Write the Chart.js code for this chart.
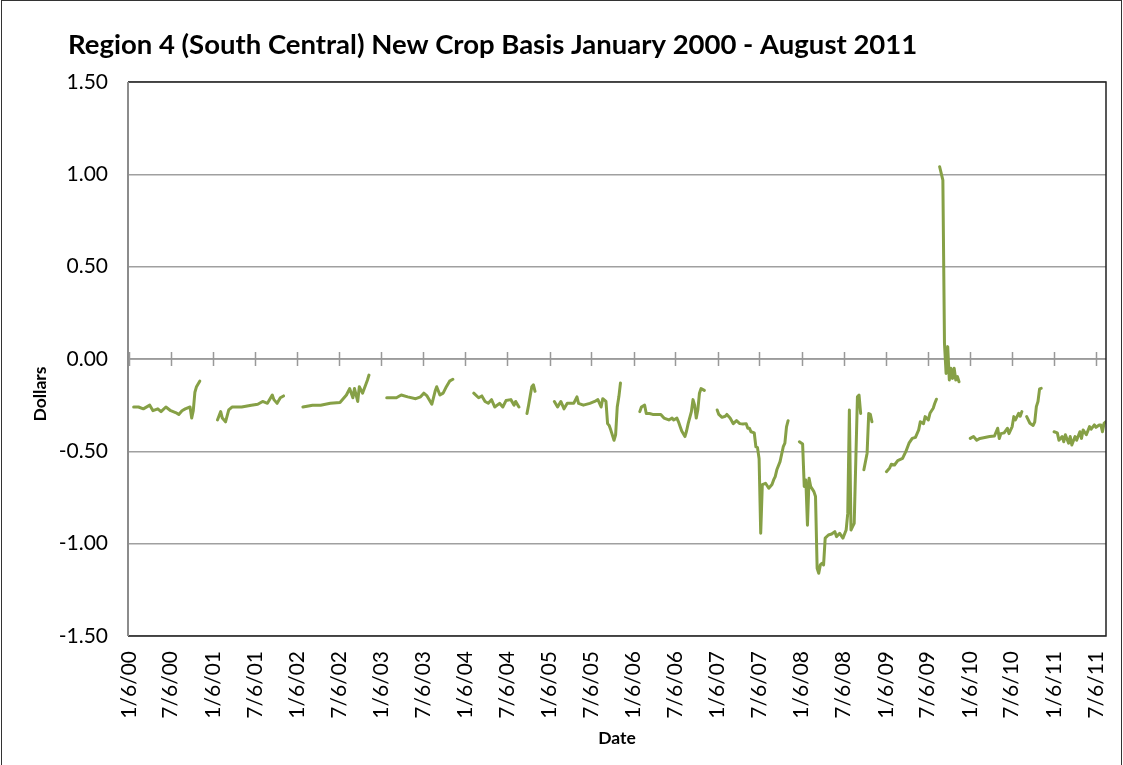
<!DOCTYPE html>
<html>
<head>
<meta charset="utf-8">
<title>Region 4 New Crop Basis</title>
<script src="https://cdn.jsdelivr.net/npm/chart.js@4.4.0/dist/chart.umd.min.js"></script>
<style>
  html, body { margin: 0; padding: 0; background: #fff; }
  #chart { display: block; }
</style>
</head>
<body>
<canvas id="chart" width="1123" height="765"></canvas>
<script>
// Wochen seit 1/6/00, Basis in Dollar - je Erntejahr ein Abschnitt
const crop2000 = [[3,-0.26],[6,-0.26],[9,-0.27],[13,-0.25],[15,-0.28],[18,-0.27],[20,-0.285],[23,-0.26],[26,-0.28],[29,-0.29],[31,-0.30],[33,-0.28],[35,-0.27],[38,-0.26],[39,-0.32],[40,-0.28],[41,-0.18],[42,-0.15],[44,-0.12]];
const crop2001 = [[55,-0.33],[57,-0.285],[58,-0.32],[60,-0.34],[62,-0.275],[64,-0.26],[70,-0.26],[76,-0.25],[80,-0.245],[83,-0.23],[86,-0.24],[89,-0.195],[90,-0.22],[92,-0.24],[94,-0.21],[96,-0.20]];
const crop2002 = [[108,-0.26],[114,-0.25],[119,-0.25],[125,-0.24],[131,-0.235],[135,-0.195],[137,-0.16],[139,-0.21],[140,-0.16],[142,-0.23],[143,-0.15],[145,-0.185],[148,-0.115],[149,-0.087]];
const crop2003 = [[160,-0.21],[166,-0.21],[169,-0.195],[173,-0.205],[178,-0.215],[181,-0.205],[183,-0.185],[185,-0.20],[188,-0.245],[190,-0.175],[191,-0.15],[193,-0.195],[195,-0.185],[197,-0.15],[199,-0.12],[201,-0.11]];
const crop2004 = [[214,-0.185],[217,-0.21],[219,-0.20],[221,-0.23],[223,-0.24],[225,-0.22],[227,-0.26],[230,-0.24],[232,-0.26],[234,-0.225],[237,-0.22],[239,-0.25],[240,-0.23],[242,-0.26]];
const crop2004b = [[247,-0.295],[248,-0.25],[249,-0.20],[250,-0.15],[251,-0.14],[252,-0.175]];
const crop2005 = [[264,-0.23],[266,-0.26],[268,-0.23],[270,-0.27],[272,-0.24],[276,-0.24],[278,-0.205],[279,-0.24],[282,-0.25],[286,-0.24],[289,-0.23],[291,-0.22],[293,-0.26],[294,-0.215],[296,-0.23],[297,-0.35],[298,-0.36],[299,-0.385],[301,-0.44],[302,-0.41],[303,-0.26],[304,-0.205],[305,-0.13]];
const crop2006 = [[317,-0.285],[318,-0.26],[320,-0.25],[321,-0.295],[323,-0.295],[325,-0.30],[328,-0.30],[330,-0.30],[332,-0.32],[335,-0.33],[337,-0.32],[338,-0.33],[340,-0.32],[341,-0.34],[342,-0.365],[343,-0.39],[345,-0.42],[346,-0.39],[347,-0.35],[349,-0.285],[350,-0.22],[351,-0.25],[352,-0.32],[353,-0.275],[354,-0.185],[355,-0.16],[357,-0.17]];
const crop2007 = [[365,-0.276],[366,-0.30],[368,-0.316],[370,-0.31],[371,-0.30],[373,-0.32],[375,-0.35],[377,-0.334],[379,-0.35],[381,-0.352],[383,-0.35],[384,-0.375],[385,-0.375],[386,-0.394],[388,-0.40],[389,-0.475],[390,-0.48],[391,-0.54],[392,-0.944],[393,-0.68],[395,-0.673],[397,-0.70],[399,-0.68],[400,-0.655],[401,-0.637],[402,-0.60],[404,-0.556],[406,-0.475],[407,-0.456],[408,-0.367],[409,-0.334]];
const crop2008 = [[416,-0.448],[418,-0.46],[419,-0.69],[420,-0.655],[421,-0.90],[422,-0.646],[423,-0.69],[425,-0.718],[426,-0.745],[427,-1.133],[428,-1.16],[429,-1.115],[430,-1.106],[431,-1.115],[432,-0.97],[434,-0.953],[436,-0.948],[438,-0.935],[439,-0.962],[441,-0.944],[443,-0.97],[445,-0.926],[446,-0.836],[447,-0.276],[448,-0.926],[449,-0.908],[450,-0.89],[452,-0.204],[453,-0.195],[454,-0.295]];
const crop2008b = [[456,-0.60],[458,-0.51],[459,-0.295],[460,-0.30],[461,-0.34]];
const crop2009 = [[470,-0.61],[472,-0.59],[473,-0.57],[475,-0.574],[477,-0.55],[480,-0.538],[482,-0.502],[484,-0.456],[486,-0.43],[488,-0.424],[490,-0.384],[491,-0.34],[493,-0.35],[494,-0.312],[496,-0.33],[497,-0.294],[499,-0.267],[500,-0.24],[501,-0.218]];
const spike2009 = [[503,1.041],[505,0.969],[506,0.085],[507,-0.078],[508,0.067],[509,-0.114],[510,-0.05],[511,-0.105],[512,-0.05],[513,-0.114],[514,-0.095],[515,-0.123]];
const crop2010 = [[522,-0.43],[524,-0.42],[526,-0.44],[528,-0.43],[531,-0.425],[534,-0.42],[537,-0.417],[539,-0.375],[540,-0.43],[541,-0.404],[543,-0.40],[545,-0.375],[546,-0.404],[548,-0.366],[549,-0.312],[550,-0.33],[552,-0.294],[553,-0.31],[554,-0.285]];
const crop2010b = [[557,-0.312],[559,-0.348],[561,-0.36],[562,-0.34],[563,-0.258],[564,-0.23],[565,-0.162],[566,-0.159]];
const crop2011 = [[574,-0.394],[576,-0.40],[577,-0.44],[579,-0.42],[580,-0.448],[581,-0.41],[583,-0.456],[584,-0.42],[585,-0.466],[587,-0.42],[588,-0.44],[590,-0.394],[591,-0.43],[592,-0.384],[594,-0.41],[596,-0.366],[597,-0.38],[599,-0.357],[600,-0.37],[602,-0.357],[603,-0.357],[604,-0.394],[605,-0.348],[606,-0.34]];

const segments = [crop2000, crop2001, crop2002, crop2003, crop2004, crop2004b, crop2005, crop2006,
                  crop2007, crop2008, crop2008b, crop2009, spike2009, crop2010, crop2010b, crop2011];

// Achsenbeschriftungen
const dateTicks = ['1/6/00','7/6/00','1/6/01','7/6/01','1/6/02','7/6/02','1/6/03','7/6/03',
                   '1/6/04','7/6/04','1/6/05','7/6/05','1/6/06','7/6/06','1/6/07','7/6/07',
                   '1/6/08','7/6/08','1/6/09','7/6/09','1/6/10','7/6/10','1/6/11','7/6/11'];
const chartTitle = 'Region 4 (South Central) New Crop Basis January 2000 - August 2011';
const yTitle = 'Dollars';
const xTitle = 'Date';

const FONT = 'Lato, "Open Sans", sans-serif';
const LINE_COLOR = '#86a046';

// Datum M/D/YY in Wochen seit 1/6/00 umrechnen
function toWeek(label) {
    const [m, d, y] = label.split('/').map(Number);
    const t0 = Date.UTC(2000, 0, 6);
    return (Date.UTC(2000 + y, m - 1, d) - t0) / 86400000 / 7;
}
const tickWeeks = dateTicks.map(toWeek);

// Punkte mit Luecken zwischen den Abschnitten
const points = [];
segments.forEach((seg, i) => {
    if (i > 0) {
        const prev = segments[i - 1];
        points.push({ x: (prev[prev.length - 1][0] + seg[0][0]) / 2, y: null });
    }
    seg.forEach(p => points.push({ x: p[0], y: p[1] }));
});

const decorations = {
    id: 'decorations',
    beforeDatasetsDraw(chart) {
        const { ctx, chartArea: a, scales: { x, y } } = chart;
        const y0 = y.getPixelForValue(0);
        ctx.save();
        ctx.strokeStyle = '#999999';
        ctx.lineWidth = 1.5;
        ctx.beginPath();
        ctx.moveTo(a.left, y0);
        ctx.lineTo(a.right, y0);
        tickWeeks.forEach(w => {
            const px = Math.round(x.getPixelForValue(w)) + 0.5;
            if (px <= a.left + 1) return;
            ctx.moveTo(px, y0 - 7);
            ctx.lineTo(px, y0 + 7);
        });
        ctx.stroke();
        ctx.restore();
    },
    afterDraw(chart) {
        const { ctx, chartArea: a } = chart;
        ctx.save();
        // Plotbereich-Rahmen
        ctx.lineWidth = 1.5;
        ctx.strokeStyle = '#222';
        ctx.beginPath();
        ctx.moveTo(a.left, a.top);
        ctx.lineTo(a.right, a.top);
        ctx.lineTo(a.right, a.bottom);
        ctx.lineTo(a.left, a.bottom);
        ctx.stroke();
        ctx.strokeStyle = '#8c8c8c';
        ctx.lineWidth = 2;
        ctx.beginPath();
        ctx.moveTo(a.left, a.top);
        ctx.lineTo(a.left, a.bottom);
        ctx.stroke();
        // Diagrammrahmen
        ctx.strokeStyle = '#333';
        ctx.lineWidth = 1;
        ctx.strokeRect(1.5, 0.5, 1120, 780);
        // Texte
        ctx.fillStyle = '#000';
        ctx.font = 'bold 27.5px ' + FONT;
        ctx.textAlign = 'left';
        ctx.textBaseline = 'alphabetic';
        ctx.fillText(chartTitle, 68, 54);
        ctx.font = 'bold 17.5px ' + FONT;
        ctx.textAlign = 'center';
        ctx.textBaseline = 'middle';
        ctx.fillText(xTitle, 617, 738);
        ctx.translate(40, 394);
        ctx.rotate(-Math.PI / 2);
        ctx.fillText(yTitle, 0, 0);
        ctx.restore();
    }
};

new Chart(document.getElementById('chart').getContext('2d'), {
    type: 'line',
    data: {
        datasets: [{
            data: points,
            borderColor: LINE_COLOR,
            borderWidth: 3,
            borderJoinStyle: 'round',
            borderCapStyle: 'round',
            pointRadius: 0,
            tension: 0,
            spanGaps: false,
            fill: false
        }]
    },
    options: {
        responsive: false,
        animation: false,
        layout: { padding: { top: 82, right: 17, left: 0, bottom: 0 } },
        plugins: {
            legend: { display: false },
            tooltip: { enabled: false }
        },
        scales: {
            x: {
                type: 'linear',
                min: -0.5,
                max: 606.2,
                afterBuildTicks: scale => {
                    scale.ticks = tickWeeks.map(v => ({ value: v }));
                },
                afterFit: scale => {
                    scale.height = 129;
                    scale.paddingLeft = 0;
                    scale.paddingRight = 0;
                },
                grid: { display: false, drawTicks: false },
                border: { display: false },
                ticks: {
                    autoSkip: false,
                    maxRotation: 90,
                    minRotation: 90,
                    padding: 15,
                    color: '#000',
                    font: { family: FONT, size: 21 },
                    callback: (value, index) => dateTicks[index]
                }
            },
            y: {
                min: -1.5,
                max: 1.5,
                afterFit: scale => {
                    scale.width = 128;
                    scale.paddingTop = 0;
                    scale.paddingBottom = 0;
                },
                grid: { color: '#a0a0a0', lineWidth: 1.5, drawTicks: false },
                border: { display: false },
                ticks: {
                    stepSize: 0.5,
                    padding: 20,
                    color: '#000',
                    font: { family: FONT, size: 21 },
                    callback: value => value.toFixed(2)
                }
            }
        }
    },
    plugins: [decorations]
});
</script>
</body>
</html>
